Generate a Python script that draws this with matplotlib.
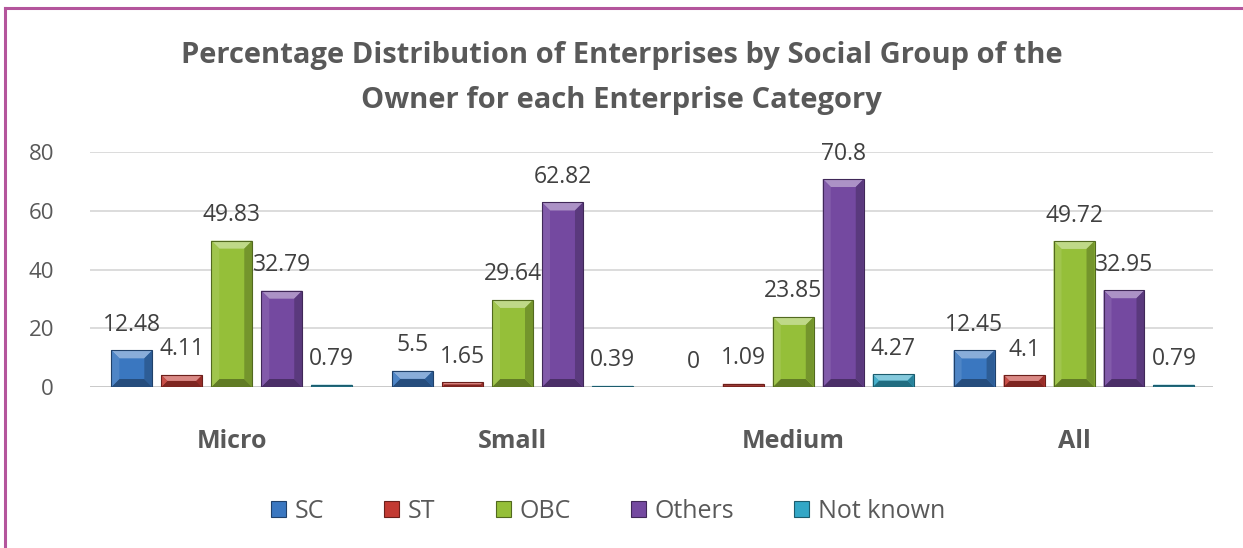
import matplotlib.pyplot as plt
import numpy as np
from matplotlib.patches import Polygon, Patch
from matplotlib.lines import Line2D
from matplotlib.colors import to_rgb

categories = ["Micro", "Small", "Medium", "All"]
groups = ["SC", "ST", "OBC", "Others", "Not known"]
sc = [12.48, 5.5, 0, 12.45]
st = [4.11, 1.65, 1.09, 4.1]
obc = [49.83, 29.64, 23.85, 49.72]
others = [32.79, 62.82, 70.8, 32.95]
not_known = [0.79, 0.39, 4.27, 0.79]
series = [sc, st, obc, others, not_known]

base_colors = ["#3a77c0", "#c23a33", "#95bf39", "#7449a0", "#33a7c6"]
title = "Percentage Distribution of Enterprises by Social Group of the\nOwner for each Enterprise Category"

plt.rcParams['font.family'] = ['Open Sans', 'DejaVu Sans']
text_gray = "#595959"

fig = plt.figure(figsize=(12.43, 5.48), dpi=100)
ax = fig.add_axes([90 / 1243, 1 - 387 / 548, (1213 - 90) / 1243, (387 - 152) / 548])

x = np.arange(len(categories))
step = 0.178
width = 0.146
ax.set_xlim(-0.505, 3.495)
ax.set_ylim(0, 80)


def shade(c, f):
    r = np.array(to_rgb(c))
    if f >= 0:
        return tuple(r + (1 - r) * f)
    return tuple(r * (1 + f))


def bevel(ax, x0, w, h, color):
    # pillow-style bevel drawn in pixel space on top of a bar
    (px0, py0), (px1, py1) = ax.transData.transform([(x0, 0), (x0 + w, h)])
    if py1 - py0 < 0.5:
        return
    d = min(8.0, (py1 - py0) / 2, (px1 - px0) / 2)
    ix0, ix1, iy0, iy1 = px0 + d, px1 - d, py0 + d, py1 - d
    faces = [
        ([(px0, py1), (px1, py1), (ix1, iy1), (ix0, iy1)], shade(color, 0.4)),
        ([(px0, py0), (ix0, iy0), (ix1, iy0), (px1, py0)], shade(color, -0.35)),
        ([(px0, py0), (px0, py1), (ix0, iy1), (ix0, iy0)], shade(color, 0.1)),
        ([(px1, py0), (ix1, iy0), (ix1, iy1), (px1, py1)], shade(color, -0.22)),
    ]
    for pts, fc in faces:
        ax.add_patch(Polygon(pts, closed=True, facecolor=fc, edgecolor='none',
                             transform=None, zorder=4))
    ax.add_patch(Polygon([(px0, py0), (px1, py0), (px1, py1), (px0, py1)], closed=True,
                         facecolor='none', edgecolor=shade(color, -0.45), lw=0.8,
                         transform=None, zorder=5))


for i, (vals, col) in enumerate(zip(series, base_colors)):
    pos = x + (i - 2) * step
    ax.bar(pos, vals, width, color=col, edgecolor='none', zorder=3, label=groups[i])
    for p, v in zip(pos, vals):
        bevel(ax, p - width / 2, width, v, col)
        ax.annotate(f"{v:g}", (p, v), xytext=(0, 14), textcoords='offset points',
                    ha='center', va='baseline', fontsize=16.5, color="#404040", zorder=6)

ax.set_yticks([0, 20, 40, 60, 80])
ax.grid(axis='y', color='#d9d9d9', lw=1.3, zorder=0)
ax.axhline(0, color='#c8c8c8', lw=2, zorder=2)
for s in ax.spines.values():
    s.set_visible(False)
ax.tick_params(axis='y', length=0, pad=26, labelsize=16, labelcolor=text_gray)
ax.tick_params(axis='x', length=0, pad=30)
ax.set_xticks(x)
ax.set_xticklabels(categories, fontsize=18, fontweight='bold', color=text_gray)

fig.text(0.5, 1 - 78 / 548, title, ha='center', va='center', fontsize=21,
         fontweight='bold', color=text_gray, linespacing=1.7)

handles = [Patch(facecolor=c, edgecolor=shade(c, -0.45), lw=0.8) for c in base_colors]
fig.legend(handles, groups, loc='center', bbox_to_anchor=(608 / 1243, 1 - 511 / 548),
           ncol=5, frameon=False, fontsize=18, labelcolor=text_gray,
           handlelength=0.6, handleheight=0.6, handletextpad=0.35, columnspacing=2.4)

# frame lines on the left and top edges
frame_col = "#b4559c"
fig.add_artist(Line2D([5 / 1243, 5 / 1243], [0, 1 - 8 / 548], color=frame_col, lw=2.2))
fig.add_artist(Line2D([5 / 1243, 1], [1 - 8 / 548, 1 - 8 / 548], color=frame_col, lw=2.2))

fig.savefig("out.png", dpi=100)
